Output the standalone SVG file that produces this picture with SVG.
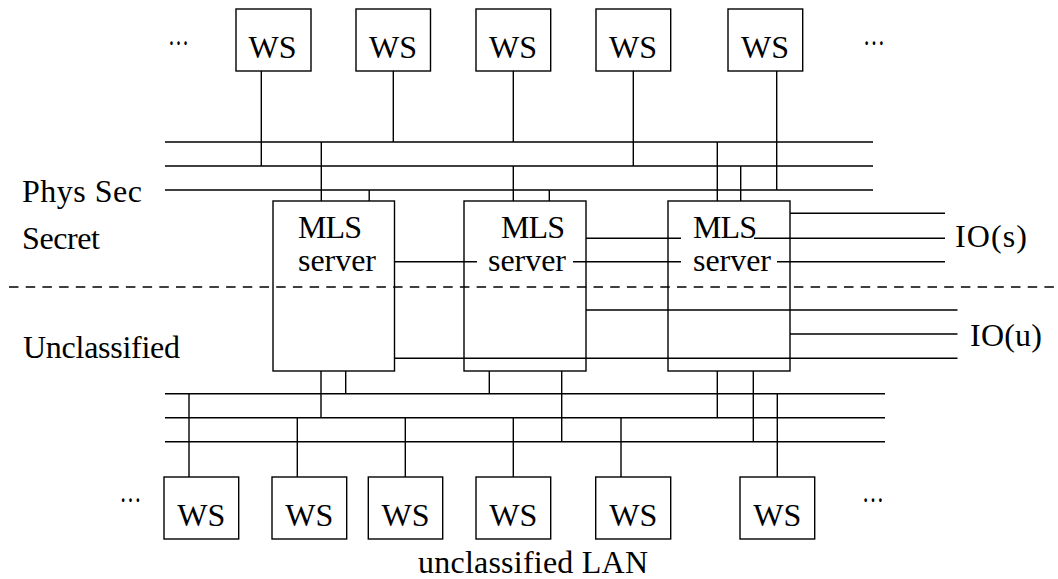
<svg xmlns="http://www.w3.org/2000/svg" width="1058" height="579" viewBox="0 0 1058 579">
<style>
.box{fill:none;stroke:#000;stroke-width:1.4}
.ln{stroke:#000;stroke-width:1.4;fill:none}
.dash{stroke:#000;stroke-width:1.4;fill:none;stroke-dasharray:9.5 7.2}
.t{font-family:"Liberation Serif","DejaVu Serif",serif;font-size:32px;fill:#000}
.m{text-anchor:middle}
</style>
<rect width="1058" height="579" fill="#fff"/>
<g id="connectors">
<path class="ln" d="M165 142H873M165 166H873M165 190H873"/>
<path class="ln" d="M261.3 71V166M393.3 71V142M513.3 71V142M633.3 71V166M776.7 71V190"/>
<path class="ln" d="M321.3 142V201M369.2 190V201M513.3 166V201M549.3 190V201M717.3 142V201M740.7 166V201"/>
<path class="ln" d="M394 261.7H477M586 238.3H681M573 261.7H681M790 213.3H945M754 238.3H945M777 261.7H945"/>
<path class="ln" d="M586 310H957.5M790 334H957.5M394 358.3H957.5"/>
<path class="ln" d="M165 393.7H885M165 417.7H885M165 441.7H885"/>
<path class="ln" d="M321 371V417.7M345.7 371V393.7M489.3 371V393.7M561.7 371V441.7M717.3 371V417.7M753.3 371V441.7"/>
<path class="ln" d="M189 393.7V477M297.3 417.7V477M405.3 417.7V477M513.3 417.7V477M621 417.7V477M777.3 393.7V477"/>
</g>
<path id="level-boundary" class="dash" d="M9 287H1058"/>
<g id="labels">
<text class="t" x="22" y="202" textLength="120">Phys Sec</text>
<text class="t" x="22" y="249" textLength="78">Secret</text>
<text class="t" x="23" y="358" textLength="157">Unclassified</text>
<text class="t" x="955" y="247" textLength="72">IO(s)</text>
<text class="t" x="970" y="346" textLength="72">IO(u)</text>
<text class="t" x="418" y="573" textLength="230">unclassified LAN</text>
<text class="t" x="168" y="45" textLength="21" lengthAdjust="spacingAndGlyphs">…</text>
<text class="t" x="863" y="45" textLength="22" lengthAdjust="spacingAndGlyphs">…</text>
<text class="t" x="119.5" y="502" textLength="22" lengthAdjust="spacingAndGlyphs">…</text>
<text class="t" x="862" y="502" textLength="22" lengthAdjust="spacingAndGlyphs">…</text>
</g>
<g id="ws-top-1"><rect class="box" x="236" y="9" width="75" height="62"/><text class="t m" x="272.5" y="58" textLength="48">WS</text></g>
<g id="ws-top-2"><rect class="box" x="356" y="9" width="74.5" height="62"/><text class="t m" x="393" y="58" textLength="48">WS</text></g>
<g id="ws-top-3"><rect class="box" x="476" y="9" width="74.7" height="62"/><text class="t m" x="513" y="58" textLength="48">WS</text></g>
<g id="ws-top-4"><rect class="box" x="596" y="9" width="74.7" height="62"/><text class="t m" x="633" y="58" textLength="48">WS</text></g>
<g id="ws-top-5"><rect class="box" x="728" y="9" width="74.7" height="62"/><text class="t m" x="765" y="58" textLength="48">WS</text></g>
<g id="mls-server-1"><rect class="box" x="273" y="201" width="121.5" height="170"/><text class="t" x="298" y="237.5" textLength="64">MLS</text><text class="t" x="298" y="270.7" textLength="78">server</text></g>
<g id="mls-server-2"><rect class="box" x="464" y="201" width="122" height="170"/><text class="t" x="501" y="237.5" textLength="64">MLS</text><text class="t" x="488" y="270.7" textLength="78">server</text></g>
<g id="mls-server-3"><rect class="box" x="668" y="201" width="122" height="170"/><text class="t" x="693" y="237.5" textLength="64">MLS</text><text class="t" x="693" y="270.7" textLength="78">server</text></g>
<g id="ws-bottom-1"><rect class="box" x="164" y="477" width="74.7" height="62"/><text class="t m" x="201.3" y="526" textLength="48">WS</text></g>
<g id="ws-bottom-2"><rect class="box" x="272" y="477" width="74.7" height="62"/><text class="t m" x="309.3" y="526" textLength="48">WS</text></g>
<g id="ws-bottom-3"><rect class="box" x="368.3" y="477" width="74.4" height="62"/><text class="t m" x="405.5" y="526" textLength="48">WS</text></g>
<g id="ws-bottom-4"><rect class="box" x="476" y="477" width="74.7" height="62"/><text class="t m" x="513.3" y="526" textLength="48">WS</text></g>
<g id="ws-bottom-5"><rect class="box" x="595.7" y="477" width="75" height="62"/><text class="t m" x="633.2" y="526" textLength="48">WS</text></g>
<g id="ws-bottom-6"><rect class="box" x="740" y="477" width="74.7" height="62"/><text class="t m" x="777.3" y="526" textLength="48">WS</text></g>
</svg>
